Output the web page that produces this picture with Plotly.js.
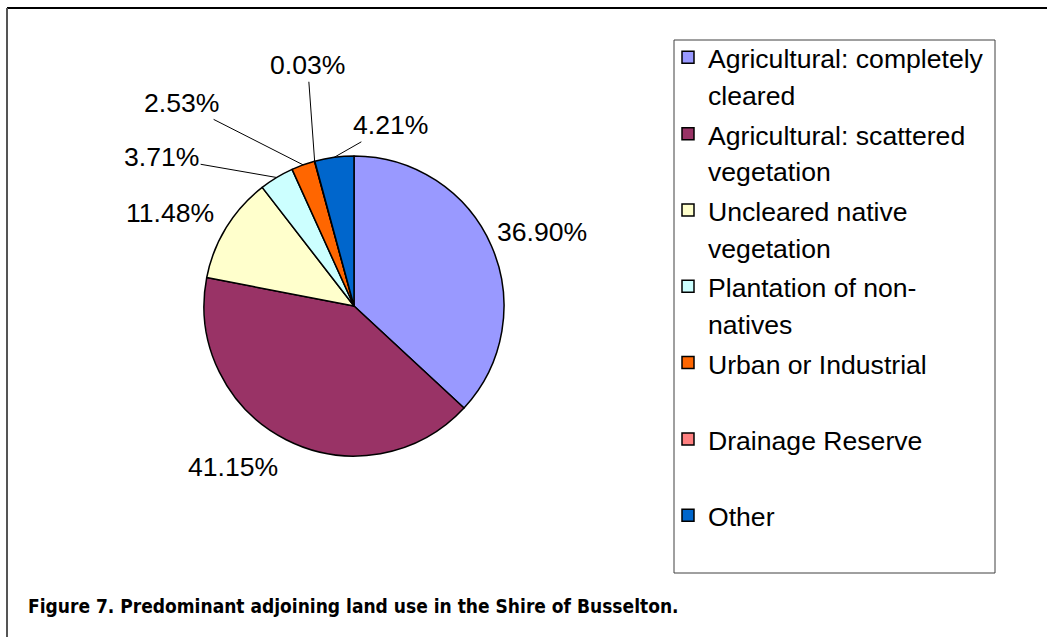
<!DOCTYPE html>
<html>
<head>
<meta charset="utf-8">
<script src="https://cdn.plot.ly/plotly-3.0.1.min.js"></script>
<style>
  html, body { margin: 0; padding: 0; background: #ffffff; }
  #chart { width: 1047px; height: 637px; }
</style>
</head>
<body>
<div id="chart"></div>
<script>
// ---- data ----
var categories = [
  "Agricultural: completely<br>cleared",
  "Agricultural: scattered<br>vegetation",
  "Uncleared native<br>vegetation",
  "Plantation of non-<br>natives",
  "Urban or Industrial<br> ",
  "Drainage Reserve<br> ",
  "Other<br> "
];
var percentValues = [36.90, 41.15, 11.48, 3.71, 2.53, 0.03, 4.21];
var percentLabels = ["36.90%", "41.15%", "11.48%", "3.71%", "2.53%", "0.03%", "4.21%"];
var captionText = "Figure 7. Predominant adjoining land use in the Shire of Busselton.";

// ---- styles ----
var sliceColors = ["#9999FF", "#993366", "#FFFFCC", "#CCFFFF", "#FF6600", "#FF8080", "#0066CC"];
// label placement relative to slice edge midpoint (pixels) and whether a leader line is drawn
var labelOffsets = [[51, -14], [-53, 27], [-56, -14], [-115, -20], [-122, -62], [-7, -96], [56, -32]];
var labelLeader = [false, false, false, true, true, true, true];

var W = 1047, H = 637;
var pieDomain = { x: [204 / W, 504 / W], y: [(H - 456) / H, (H - 156) / H] };
var baseFont = '"Liberation Sans", Arial, Helvetica, sans-serif';
var legendTextSize = 26.6;

// legend text: each line rendered at the legend text size (line pitch comes from legend font)
var legendLabels = categories.map(function (c) {
  return c.split("<br>").map(function (line) {
    return '<span style="font-size:' + legendTextSize + 'px">' + line + '</span>';
  }).join("<br>");
});

// pie geometry in pixels (derived from the domain, same as plotly)
var cx = (pieDomain.x[0] + pieDomain.x[1]) / 2 * W;
var cy = (1 - (pieDomain.y[0] + pieDomain.y[1]) / 2) * H;
var rad = Math.min((pieDomain.x[1] - pieDomain.x[0]) * W, (pieDomain.y[1] - pieDomain.y[0]) * H) / 2;

var total = percentValues.reduce(function (a, b) { return a + b; }, 0);
var annotations = [];
var cum = 0;
percentValues.forEach(function (v, i) {
  var mid = (cum + v / 2) / total * 2 * Math.PI; // clockwise from 12 o'clock
  cum += v;
  var tx = cx + rad * Math.sin(mid);
  var ty = cy - rad * Math.cos(mid);
  var off = labelOffsets[i];
  if (labelLeader[i]) {
    annotations.push({
      xref: "paper", yref: "paper",
      x: tx / W, y: 1 - ty / H,
      ax: off[0], ay: off[1],
      text: percentLabels[i],
      showarrow: true, arrowhead: 0, arrowwidth: 1, arrowcolor: "#000000",
      standoff: 0, startstandoff: 0,
      font: { family: baseFont, size: 26.6, color: "#000000" }
    });
  } else {
    annotations.push({
      xref: "paper", yref: "paper",
      x: (tx + off[0]) / W, y: 1 - (ty + off[1]) / H,
      xanchor: "center", yanchor: "middle",
      text: percentLabels[i],
      showarrow: false,
      font: { family: baseFont, size: 26.6, color: "#000000" }
    });
  }
});

annotations.push({
  xref: "paper", yref: "paper",
  x: 26 / W, y: 1 - 606 / H,
  xanchor: "left", yanchor: "middle",
  text: "<b>" + captionText + "</b>",
  showarrow: false,
  font: { family: '"DejaVu Sans Condensed", "Liberation Sans Narrow", "Arial Narrow", sans-serif', size: 19, color: "#000000" }
});

var trace = {
  type: "pie",
  labels: legendLabels,
  values: percentValues,
  sort: false,
  direction: "clockwise",
  rotation: 0,
  domain: pieDomain,
  textinfo: "none",
  hoverinfo: "skip",
  marker: { colors: sliceColors, line: { color: "#000000", width: 1.5 } }
};

var layout = {
  width: W, height: H,
  margin: { l: 0, r: 0, t: 0, b: 0 },
  paper_bgcolor: "#ffffff",
  plot_bgcolor: "#ffffff",
  showlegend: true,
  legend: {
    x: 668 / W, y: 1 - 32.5 / H,
    xanchor: "left", yanchor: "top",
    bgcolor: "rgba(0,0,0,0)",
    borderwidth: 0,
    valign: "top",
    itemwidth: 30,
    traceorder: "normal",
    font: { family: baseFont, size: 28.2, color: "#000000" }
  },
  shapes: [
    { type: "rect", xref: "paper", yref: "paper",
      x0: 674 / W, x1: 995 / W, y0: 1 - 573 / H, y1: 1 - 40 / H,
      line: { color: "#404040", width: 1 }, fillcolor: "rgba(0,0,0,0)" },
    { type: "line", xref: "paper", yref: "paper",
      x0: 7 / W, x1: 1, y0: 1 - 8 / H, y1: 1 - 8 / H,
      line: { color: "#000000", width: 2 } },
    { type: "line", xref: "paper", yref: "paper",
      x0: 7 / W, x1: 7 / W, y0: 0, y1: 1 - 8 / H,
      line: { color: "#555555", width: 2 } }
  ],
  annotations: annotations
};

Plotly.newPlot("chart", [trace], layout, { displayModeBar: false, staticPlot: true });
</script>
</body>
</html>
